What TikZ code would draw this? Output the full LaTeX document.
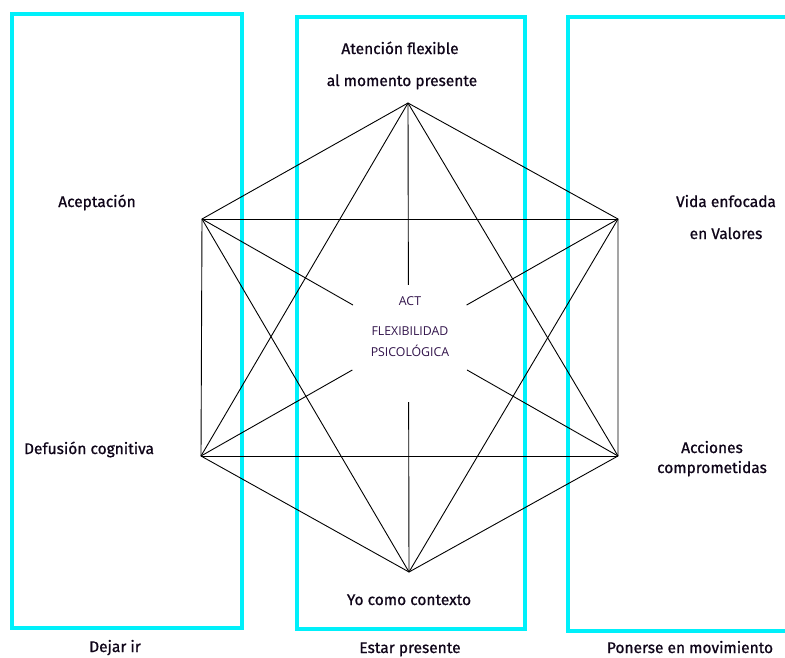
\documentclass[tikz,border=0pt]{standalone}
\usepackage{fontspec}
\usetikzlibrary{calc}
\setmainfont{Fira Sans}
\newfontfamily\lblfont{Fira Sans}[FakeBold=0.9]
\newfontfamily\centerfont{Open Sans}
\definecolor{boxcyan}{RGB}{0,240,250}
\definecolor{actpurple}{RGB}{50,20,75}
\definecolor{lbltext}{RGB}{15,5,25}
\begin{document}
\begin{tikzpicture}[x=1pt,y=-1pt,
  cyanbox/.style={draw=boxcyan,line width=3.5pt},
  hexline/.style={draw=black,line width=0.9pt},
  lbl/.style={font=\lblfont\fontsize{15.5}{18}\selectfont, text=lbltext, inner sep=0pt, anchor=base},
  ctr/.style={font=\centerfont\fontsize{12.3}{14}\selectfont, text=actpurple, inner sep=0pt, anchor=base}]
\useasboundingbox (0,0) rectangle (785,657);
\clip (0,0) rectangle (785,657);
% cyan boxes
\draw[cyanbox] (12,14) rectangle (242,628);
\draw[cyanbox] (297,17) rectangle (525,629);
\draw[cyanbox] (568,17) rectangle (800,631);
% vertices
\coordinate (T) at (408,103);
\coordinate (UL) at (202,219);
\coordinate (UR) at (618,219);
\coordinate (LL) at (201,456);
\coordinate (LR) at (618,456);
\coordinate (B) at (409,572);
% hexagon
\draw[hexline] (T) -- (UR) -- (LR) -- (B) -- (LL) -- (UL) -- cycle;
% horizontals
\draw[hexline] (UL) -- (UR);
\draw[hexline] (LL) -- (LR);
% triangles
\draw[hexline] (T) -- (LL);
\draw[hexline] (T) -- (LR);
\draw[hexline] (B) -- (UL);
\draw[hexline] (B) -- (UR);
% broken centre lines
\coordinate (vt) at ($(T)!0.388!(B)$);
\coordinate (vb) at ($(T)!0.638!(B)$);
\coordinate (d1a) at ($(UL)!0.363!(LR)$);
\coordinate (d1b) at ($(UL)!0.637!(LR)$);
\coordinate (d2a) at ($(UR)!0.363!(LL)$);
\coordinate (d2b) at ($(UR)!0.637!(LL)$);
\draw[hexline] (T) -- (vt);
\draw[hexline] (vb) -- (B);
\draw[hexline] (UL) -- (d1a);
\draw[hexline] (d1b) -- (LR);
\draw[hexline] (UR) -- (d2a);
\draw[hexline] (d2b) -- (LL);
% labels
\node[lbl] (atn1) at (400,54) {Atención flexible};
\node[lbl] (atn2) at (402,86) {al momento presente};
\node[lbl] (acep) at (97,207) {Aceptación};
\node[lbl] (vida1) at (726,207) {Vida enfocada};
\node[lbl] (vida2) at (726,239) {en Valores};
\node[lbl] (defu) at (89,454) {Defusión cognitiva};
\node[lbl] (acc1) at (712,453) {Acciones};
\node[lbl] (acc2) at (712,473) {comprometidas};
\node[lbl] (yo) at (409,605) {Yo como contexto};
\node[lbl] (dej) at (115,652) {Dejar ir};
\node[lbl] (est) at (410,653) {Estar presente};
\node[lbl] (pon) at (690,653) {Ponerse en movimiento};
% centre
\node[ctr] (act) at (410,305) {ACT};
\node[ctr] (flex) at (410,335) {FLEXIBILIDAD};
\node[ctr] (psi) at (410,356) {PSICOLÓGICA};
\end{tikzpicture}
\end{document}
